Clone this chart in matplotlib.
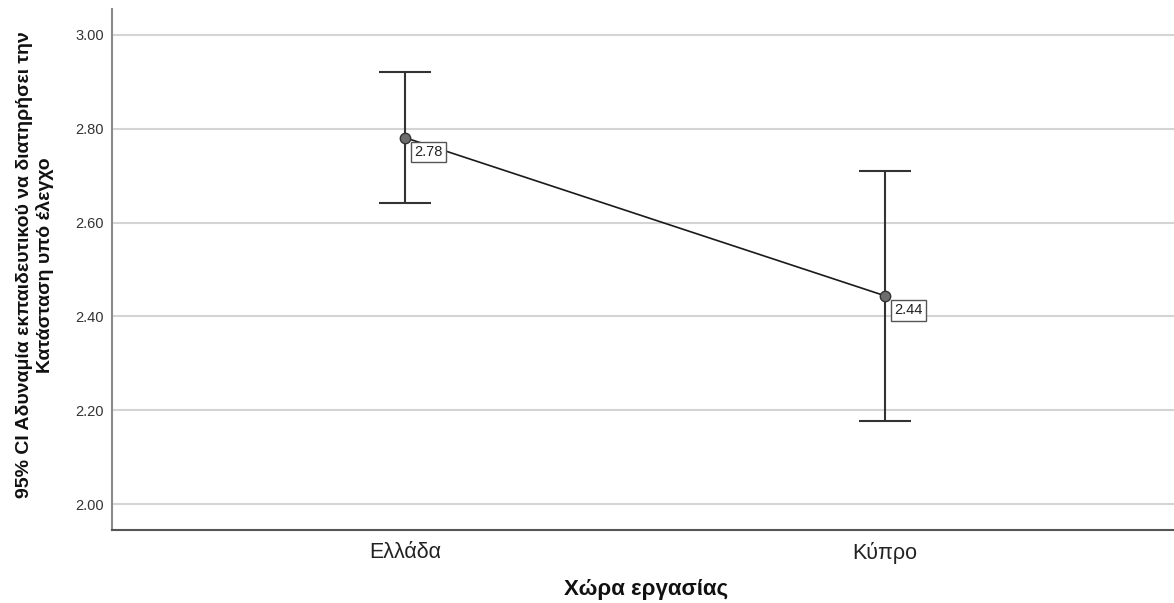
import matplotlib
matplotlib.use("Agg")
import matplotlib.pyplot as plt

plt.rcParams["font.family"] = ["Liberation Sans", "DejaVu Sans"]

# ---------------------------------------------------------------------------
# Data
# ---------------------------------------------------------------------------
categories = ["Ελλάδα", "Κύπρο"]
means = [2.781, 2.444]
ci_low = [2.641, 2.178]
ci_high = [2.920, 2.710]
yticks = [2.00, 2.20, 2.40, 2.60, 2.80, 3.00]

YLABEL = "95% CI Αδυναμία εκπαιδευτικού να διατηρήσει την\nΚατάσταση υπό έλεγχο"
XLABEL = "Χώρα εργασίας"

# ---------------------------------------------------------------------------
# Figure
# ---------------------------------------------------------------------------
fig = plt.figure(figsize=(11.74, 6.03), dpi=100)
ax = fig.add_axes([112 / 1174, 1 - 530 / 603, 1 - 112 / 1174, (530 - 9) / 603])

x = list(range(len(categories)))
err_lo = [m - lo for m, lo in zip(means, ci_low)]
err_hi = [hi - m for m, hi in zip(means, ci_high)]

ax.errorbar(x, means, yerr=[err_lo, err_hi], fmt="none", ecolor="#333333",
            elinewidth=1.5, capsize=19, capthick=1.5, zorder=3)
ax.plot(x, means, color="#1a1a1a", lw=1.2, zorder=4)
ax.plot(x, means, ls="none", marker="o", ms=7.5, mfc="#6e6e6e", mec="#333333",
        mew=1.0, zorder=5)

for xi, m in zip(x, means):
    ax.annotate(f"{m:.2f}", (xi, m), xytext=(7, -5.5), textcoords="offset points",
                ha="left", va="top", fontsize=10.5, color="#222222", zorder=6,
                bbox=dict(boxstyle="square,pad=0.22", fc="white", ec="#555555", lw=1.0))

ax.set_xlim(-0.610, 1.602)
ax.set_ylim(1.945, 3.055)
ax.set_xticks(x)
ax.set_xticklabels(categories, fontsize=15.5, color="#222222")
ax.set_yticks(yticks)
ax.set_yticklabels([f"{t:.2f}" for t in yticks], fontsize=10.5, color="#333333")
ax.tick_params(length=0)
ax.tick_params(axis="y", pad=6)
ax.tick_params(axis="x", pad=9)

ax.grid(axis="y", color="#d4d4d4", lw=1.5, zorder=0)
ax.set_axisbelow(True)
for side in ("top", "right"):
    ax.spines[side].set_visible(False)
ax.spines["left"].set_color("#8a8a8a")
ax.spines["left"].set_linewidth(1.5)
ax.spines["bottom"].set_color("#555555")
ax.spines["bottom"].set_linewidth(1.5)

fig.text(35 / 1174, 1 - 265 / 603, YLABEL, rotation=90, ha="center", va="center",
         fontsize=14, fontweight="bold", color="#111111", linespacing=1.15)
fig.text(646 / 1174, 1 - 589 / 603, XLABEL, ha="center", va="center",
         fontsize=16, fontweight="bold", color="#111111")

fig.savefig("out.png", dpi=100)
